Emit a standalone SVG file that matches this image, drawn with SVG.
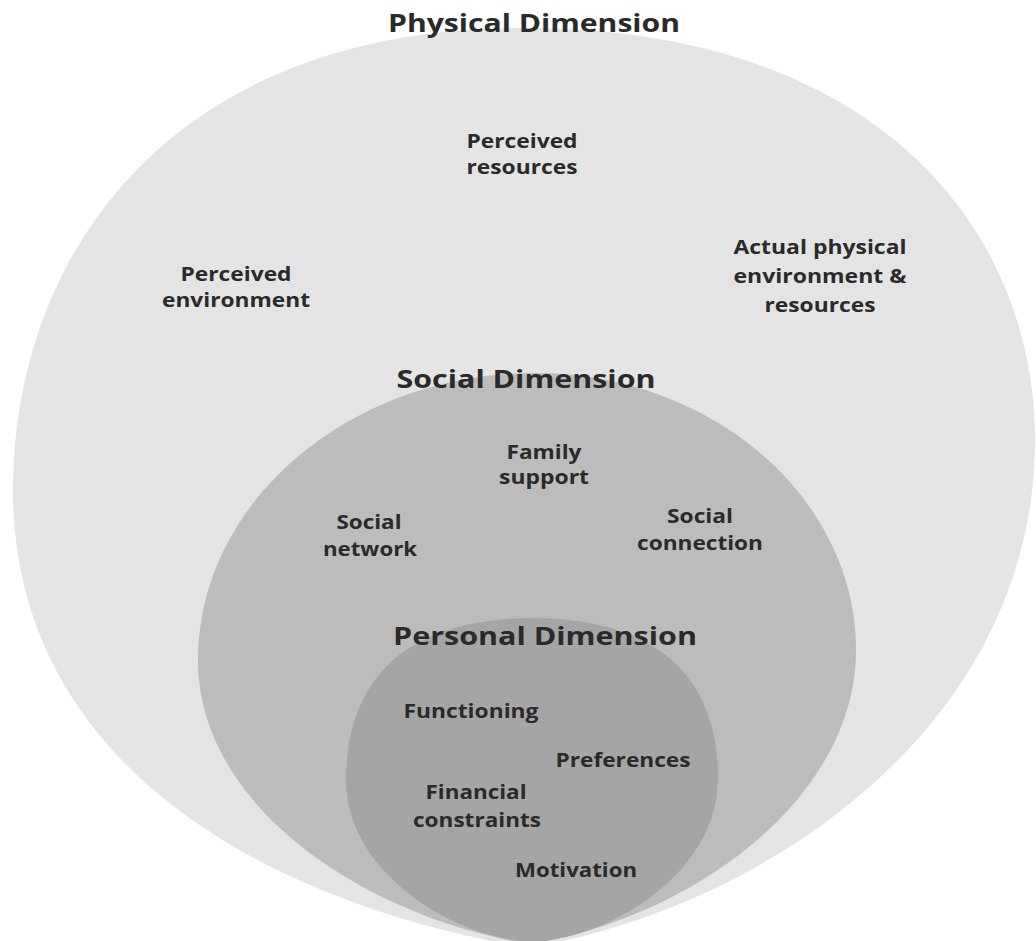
<svg xmlns="http://www.w3.org/2000/svg" width="1036" height="941" viewBox="0 0 1036 941">
  <style>
    .t { font-family: "Open Sans", "Noto Sans", "DejaVu Sans", sans-serif; font-weight: 700; fill: #2a2a2a; text-anchor: middle; }
    .title { font-size: 25px; }
    .lbl { font-size: 19px; }
  </style>
  <rect x="0" y="0" width="1036" height="941" fill="#ffffff"/>
  <g id="physical">
    <path d="M13,490 C13,259 166,28 524,28 C882,28 1035,234 1035,440 C1035,720 775,905 528,948 C275,905 13,770 13,490 Z" fill="#e4e4e4"/>
    <text class="t title" x="534" y="32" textLength="292" lengthAdjust="spacingAndGlyphs">Physical Dimension</text>
    <text class="t lbl" x="522" y="148" textLength="111" lengthAdjust="spacingAndGlyphs">Perceived</text>
    <text class="t lbl" x="522" y="174" textLength="111" lengthAdjust="spacingAndGlyphs">resources</text>
    <text class="t lbl" x="236" y="281" textLength="111" lengthAdjust="spacingAndGlyphs">Perceived</text>
    <text class="t lbl" x="236" y="307" textLength="148" lengthAdjust="spacingAndGlyphs">environment</text>
    <text class="t lbl" x="820" y="254" textLength="173" lengthAdjust="spacingAndGlyphs">Actual physical</text>
    <text class="t lbl" x="820" y="283" textLength="173" lengthAdjust="spacingAndGlyphs">environment &amp;</text>
    <text class="t lbl" x="820" y="312" textLength="111" lengthAdjust="spacingAndGlyphs">resources</text>
  </g>
  <g id="social">
    <path d="M198,660 C198,502 350,373 535,373 C712,373 856,498 856,650 C856,800 690,918 530,944 C370,918 198,810 198,660 Z" fill="#bcbcbc"/>
    <text class="t title" x="526" y="388" textLength="259" lengthAdjust="spacingAndGlyphs">Social Dimension</text>
    <text class="t lbl" x="544" y="459" textLength="75" lengthAdjust="spacingAndGlyphs">Family</text>
    <text class="t lbl" x="544" y="484" textLength="90" lengthAdjust="spacingAndGlyphs">support</text>
    <text class="t lbl" x="369" y="529" textLength="65" lengthAdjust="spacingAndGlyphs">Social</text>
    <text class="t lbl" x="370" y="556" textLength="94" lengthAdjust="spacingAndGlyphs">network</text>
    <text class="t lbl" x="700" y="523" textLength="66" lengthAdjust="spacingAndGlyphs">Social</text>
    <text class="t lbl" x="700" y="550" textLength="126" lengthAdjust="spacingAndGlyphs">connection</text>
  </g>
  <g id="personal">
    <path d="M346,780 C346,675 411,618 532,618 C653,618 718,674 718,778 C718,872 612,938 532,942 C452,938 346,872 346,780 Z" fill="#a5a5a5"/>
    <text class="t title" x="545" y="645" textLength="304" lengthAdjust="spacingAndGlyphs">Personal Dimension</text>
    <text class="t lbl" x="471" y="718" textLength="135" lengthAdjust="spacingAndGlyphs">Functioning</text>
    <text class="t lbl" x="623" y="767" textLength="135" lengthAdjust="spacingAndGlyphs">Preferences</text>
    <text class="t lbl" x="476" y="799" textLength="101" lengthAdjust="spacingAndGlyphs">Financial</text>
    <text class="t lbl" x="477" y="827" textLength="128" lengthAdjust="spacingAndGlyphs">constraints</text>
    <text class="t lbl" x="576" y="877" textLength="122" lengthAdjust="spacingAndGlyphs">Motivation</text>
  </g>
  <g id="connectors"/>
</svg>
